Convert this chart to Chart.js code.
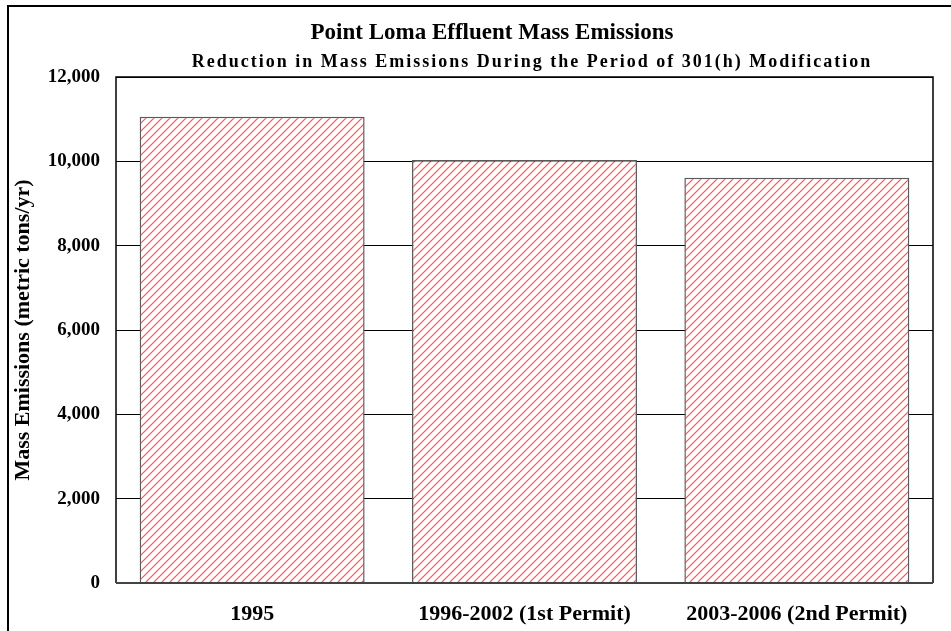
<!DOCTYPE html>
<html>
<head>
<meta charset="utf-8">
<script src="https://cdn.jsdelivr.net/npm/chart.js@4/dist/chart.umd.min.js"></script>
<style>
  html, body { margin: 0; padding: 0; background: #fff; }
  #wrap { width: 951px; height: 631px; }
</style>
</head>
<body>
<div id="wrap"><canvas id="emissionsChart"></canvas></div>
<script>
// Данные
const periods = ['1995', '1996-2002 (1st Permit)', '2003-2006 (2nd Permit)'];
const massEmissions = [11060, 10030, 9610];
const yTicks = [0, 2000, 4000, 6000, 8000, 10000, 12000];

const titleText = 'Point Loma Effluent Mass Emissions';
const subtitleText = 'Reduction in Mass Emissions During the Period of 301(h) Modification';
const yAxisTitle = 'Mass Emissions (metric tons/yr)';

const serif = '"Liberation Serif", "Times New Roman", serif';

// Штриховка для столбцов
function makeHatch() {
    const p = document.createElement('canvas');
    p.width = 8;
    p.height = 8;
    const c = p.getContext('2d');
    c.fillStyle = '#ffffff';
    c.fillRect(0, 0, 8, 8);
    c.strokeStyle = '#ff4f4f';
    c.lineWidth = 1.2;
    c.beginPath();
    c.moveTo(-1, 9); c.lineTo(9, -1);
    c.moveTo(-5, 5); c.lineTo(5, -5);
    c.moveTo(3, 13); c.lineTo(13, 3);
    c.stroke();
    return c.createPattern(p, 'repeat');
}

const canvas = document.getElementById('emissionsChart');
canvas.width = 951;
canvas.height = 631;
const ctx = canvas.getContext('2d');
const hatch = makeHatch();

// Рамка, заголовки и контур области построения
const framePlugin = {
    id: 'framePlugin',
    beforeDraw: (chart) => {
        const c = chart.ctx;
        c.save();
        c.fillStyle = '#ffffff';
        c.fillRect(0, 0, chart.width, chart.height);
        c.strokeStyle = '#000000';
        c.lineWidth = 2;
        c.beginPath();
        c.moveTo(8, chart.height);
        c.lineTo(8, 6);
        c.lineTo(chart.width, 6);
        c.stroke();

        c.fillStyle = '#000000';
        c.textAlign = 'center';
        c.textBaseline = 'middle';
        c.letterSpacing = '0px';
        c.font = `bold 23px ${serif}`;
        c.fillText(titleText, 492, 33);
        c.letterSpacing = '2px';
        c.font = `bold 18px ${serif}`;
        c.fillText(subtitleText, 532, 62);
        c.restore();
    },
    afterDatasetsDraw: (chart) => {
        const a = chart.chartArea;
        const c = chart.ctx;
        c.save();
        c.strokeStyle = '#000000';
        c.lineWidth = 1.5;
        c.beginPath();
        c.moveTo(a.left, a.bottom);
        c.lineTo(a.left, a.top);
        c.lineTo(a.right, a.top);
        c.lineTo(a.right, a.bottom);
        c.stroke();
        c.strokeStyle = '#444444';
        c.lineWidth = 2;
        c.beginPath();
        c.moveTo(a.left, a.bottom);
        c.lineTo(a.right, a.bottom);
        c.stroke();
        c.restore();
    }
};

const emissionsChart = new Chart(ctx, {
    type: 'bar',
    data: {
        labels: periods,
        datasets: [{
            data: massEmissions,
            backgroundColor: hatch,
            borderColor: '#5a5a5a',
            borderWidth: 1.5,
            barPercentage: 0.826,
            categoryPercentage: 1
        }]
    },
    options: {
        responsive: false,
        animation: false,
        maintainAspectRatio: false,
        layout: {
            padding: { left: 10, right: 18, top: 77, bottom: 0 }
        },
        plugins: {
            legend: { display: false },
            title: { display: false },
            tooltip: { enabled: false }
        },
        scales: {
            x: {
                grid: { display: false, drawTicks: false },
                border: { display: false },
                ticks: {
                    color: '#000000',
                    padding: 18,
                    maxRotation: 0,
                    font: { family: serif, size: 22, weight: 'bold' }
                },
                afterFit: (scale) => { scale.height = 48; }
            },
            y: {
                min: 0,
                max: 12000,
                afterBuildTicks: (scale) => {
                    scale.ticks = yTicks.map(v => ({ value: v }));
                },
                grid: { color: '#000000', lineWidth: 1, drawTicks: false },
                border: { display: false },
                ticks: {
                    color: '#000000',
                    padding: 16,
                    font: { family: serif, size: 19, weight: 'bold' },
                    callback: (v) => v.toLocaleString('en-US')
                },
                title: {
                    display: true,
                    text: yAxisTitle,
                    color: '#000000',
                    padding: { top: 0, bottom: 0 },
                    font: { family: serif, size: 22, weight: 'bold' }
                },
                afterFit: (scale) => { scale.width = 106; }
            }
        }
    },
    plugins: [framePlugin]
});
</script>
</body>
</html>
